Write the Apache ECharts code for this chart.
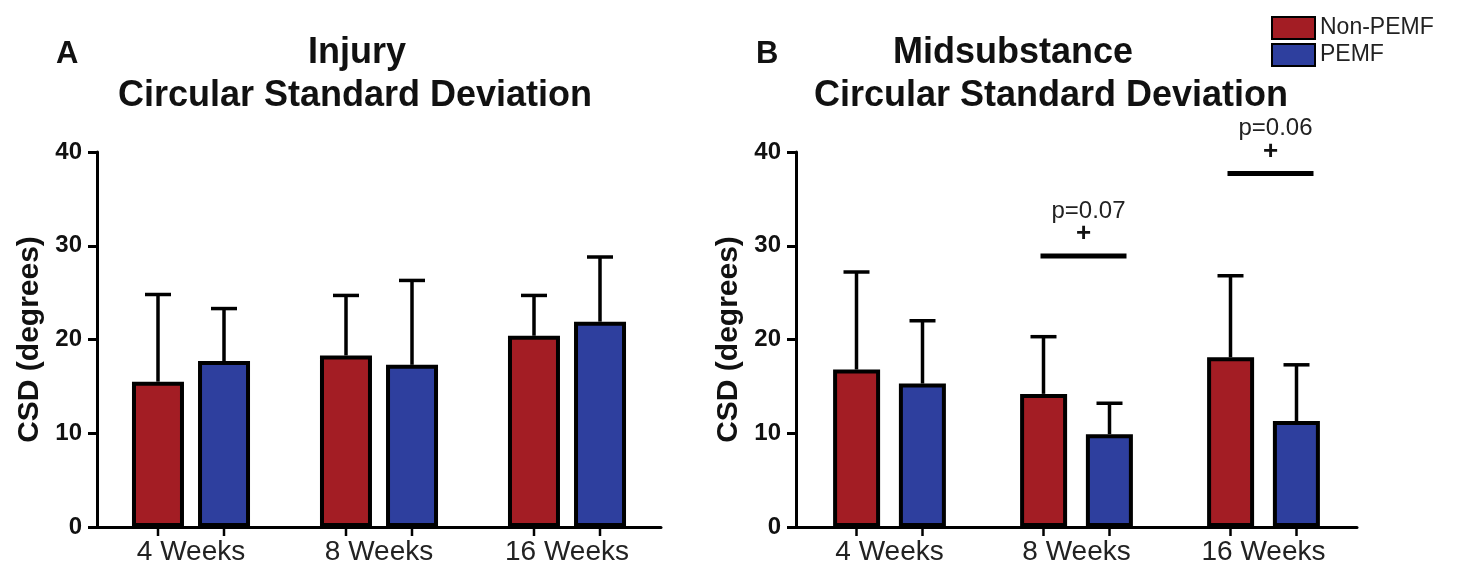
<!DOCTYPE html>
<html>
<head>
<meta charset="utf-8">
<script src="https://cdn.jsdelivr.net/npm/echarts@6/dist/echarts.min.js"></script>
<style>
html,body{margin:0;padding:0;background:#fff;}
#c{width:1459px;height:567px;}
</style>
</head>
<body>
<div id="c"></div>
<script>
// ---- data ----
const categories = ['4 Weeks', '8 Weeks', '16 Weeks'];
const seriesNames = ['Non-PEMF', 'PEMF'];
const yTicks = [0, 10, 20, 30, 40];

// Panel A: Injury
const injuryNonMean = [15.5, 18.3, 20.4];
const injuryNonSD   = [9.3, 6.4, 4.3];
const injuryPemfMean = [17.7, 17.3, 21.9];
const injuryPemfSD   = [5.6, 9.0, 6.9];

// Panel B: Midsubstance
const midNonMean = [16.8, 14.2, 18.1];
const midNonSD   = [10.4, 6.1, 8.7];
const midPemfMean = [15.3, 9.9, 11.3];
const midPemfSD   = [6.7, 3.3, 6.0];

// significance annotations (panel B): category index, bar height, label
const sigCats = [1, 2];
const sigLevels = [28.9, 37.7];
const sigLabels = ['p=0.07', 'p=0.06'];

// ---- style ----
const RED = '#a31d24';
const BLUE = '#2e3f9e';
const FONT = '"Liberation Sans", Arial, Helvetica, sans-serif';

function errData(nonMean, nonSD, pemfMean, pemfSD) {
  const d = [];
  categories.forEach((c, i) => {
    d.push([i, nonMean[i], nonSD[i], 0]);
    d.push([i, pemfMean[i], pemfSD[i], 1]);
  });
  return d;
}

function makeErr(off) {
  return function (params, api) {
    const cat = api.value(0), mean = api.value(1), sd = api.value(2), side = api.value(3);
    const p = api.coord([cat, mean]);
    const t = api.coord([cat, mean + sd]);
    const b = api.coord([cat, 0]);
    const x = p[0] + (side ? off : -off);
    const st = {stroke: '#000', lineWidth: 3.5};
    return {
      type: 'group',
      children: [
        {type: 'line', shape: {x1: x, y1: p[1], x2: x, y2: t[1]}, style: st},
        {type: 'line', shape: {x1: x - 13, y1: t[1], x2: x + 13, y2: t[1]}, style: st},
        {type: 'line', shape: {x1: x, y1: b[1] + 1, x2: x, y2: b[1] + 9}, style: {stroke: '#000', lineWidth: 2.5}}
      ]
    };
  };
}

function yAxisCfg(gi) {
  return {
    type: 'value', gridIndex: gi, min: 0, max: 40, interval: 10,
    name: 'CSD (degrees)', nameLocation: 'middle', nameRotate: 90, nameGap: 52,
    nameTextStyle: {fontFamily: FONT, fontWeight: 'bold', fontSize: 30, color: '#111'},
    axisLine: {show: true, lineStyle: {color: '#000', width: 3}},
    axisTick: {show: true, length: 9, lineStyle: {color: '#000', width: 3}},
    axisLabel: {fontFamily: FONT, fontWeight: 'bold', fontSize: 24, color: '#111', margin: 15,
      formatter: v => yTicks.indexOf(v) >= 0 ? String(v) : ''},
    splitLine: {show: false}
  };
}
function xAxisCfg(gi) {
  return {
    type: 'category', gridIndex: gi, data: categories,
    axisLine: {show: true, lineStyle: {color: '#000', width: 3}},
    axisTick: {show: false},
    axisLabel: {fontFamily: FONT, fontSize: 28, color: '#222', margin: 11}
  };
}

const chart = echarts.init(document.getElementById('c'), null, {renderer: 'canvas'});
const option = {
  animation: false,
  backgroundColor: '#fff',
  legend: {
    data: seriesNames, orient: 'vertical', left: 1266, top: 11,
    itemWidth: 43, itemHeight: 22, itemGap: 3, icon: 'rect',
    textStyle: {fontFamily: FONT, fontSize: 23, color: '#222', lineHeight: 24}
  },
  grid: [
    {left: 97, top: 152, width: 564, height: 375},
    {left: 796, top: 152, width: 561, height: 375}
  ],
  xAxis: [xAxisCfg(0), xAxisCfg(1)],
  yAxis: [yAxisCfg(0), yAxisCfg(1)],
  graphic: [
    {type: 'text', x: 56, y: 54, style: {text: 'A', font: 'bold 31px ' + FONT, fill: '#111', verticalAlign: 'middle'}},
    {type: 'text', x: 357, y: 53, style: {text: 'Injury', font: 'bold 36px ' + FONT, fill: '#111', align: 'center', verticalAlign: 'middle'}},
    {type: 'text', x: 355, y: 96, style: {text: 'Circular Standard Deviation', font: 'bold 36px ' + FONT, fill: '#111', align: 'center', verticalAlign: 'middle'}},
    {type: 'text', x: 756, y: 54, style: {text: 'B', font: 'bold 31px ' + FONT, fill: '#111', verticalAlign: 'middle'}},
    {type: 'text', x: 1013, y: 53, style: {text: 'Midsubstance', font: 'bold 36px ' + FONT, fill: '#111', align: 'center', verticalAlign: 'middle'}},
    {type: 'text', x: 1051, y: 96, style: {text: 'Circular Standard Deviation', font: 'bold 36px ' + FONT, fill: '#111', align: 'center', verticalAlign: 'middle'}}
  ],
  series: [
    {name: seriesNames[0], type: 'bar', xAxisIndex: 0, yAxisIndex: 0, data: injuryNonMean,
      barWidth: 52, barGap: '27%', itemStyle: {color: RED, borderColor: '#000', borderWidth: 4}},
    {name: seriesNames[1], type: 'bar', xAxisIndex: 0, yAxisIndex: 0, data: injuryPemfMean,
      barWidth: 52, barGap: '27%', itemStyle: {color: BLUE, borderColor: '#000', borderWidth: 4}},
    {name: seriesNames[0], type: 'bar', xAxisIndex: 1, yAxisIndex: 1, data: midNonMean,
      barWidth: 47, barGap: '40%', itemStyle: {color: RED, borderColor: '#000', borderWidth: 4}},
    {name: seriesNames[1], type: 'bar', xAxisIndex: 1, yAxisIndex: 1, data: midPemfMean,
      barWidth: 47, barGap: '40%', itemStyle: {color: BLUE, borderColor: '#000', borderWidth: 4}},
    {type: 'custom', xAxisIndex: 0, yAxisIndex: 0, z: 3, silent: true,
      data: errData(injuryNonMean, injuryNonSD, injuryPemfMean, injuryPemfSD),
      encode: {x: 0, y: 1}, renderItem: makeErr(33)},
    {type: 'custom', xAxisIndex: 1, yAxisIndex: 1, z: 3, silent: true,
      data: errData(midNonMean, midNonSD, midPemfMean, midPemfSD),
      encode: {x: 0, y: 1}, renderItem: makeErr(33)},
    {type: 'custom', xAxisIndex: 1, yAxisIndex: 1, z: 4, silent: true,
      data: sigCats.map((c, i) => [c, sigLevels[i]]),
      encode: {x: 0, y: 1},
      renderItem: function (params, api) {
        const p = api.coord([api.value(0), api.value(1)]);
        const cx = p[0] + 7;
        return {
          type: 'group',
          children: [
            {type: 'line', shape: {x1: cx - 43, y1: p[1], x2: cx + 43, y2: p[1]}, style: {stroke: '#000', lineWidth: 5}},
            {type: 'text', x: cx, y: p[1] - 22, style: {text: '+', font: 'bold 26px ' + FONT, fill: '#111', align: 'center', verticalAlign: 'middle'}},
            {type: 'text', x: cx + 5, y: p[1] - 45, style: {text: sigLabels[params.dataIndex], font: '24px ' + FONT, fill: '#222', align: 'center', verticalAlign: 'middle'}}
          ]
        };
      }}
  ]
};
chart.setOption(option);
</script>
</body>
</html>
